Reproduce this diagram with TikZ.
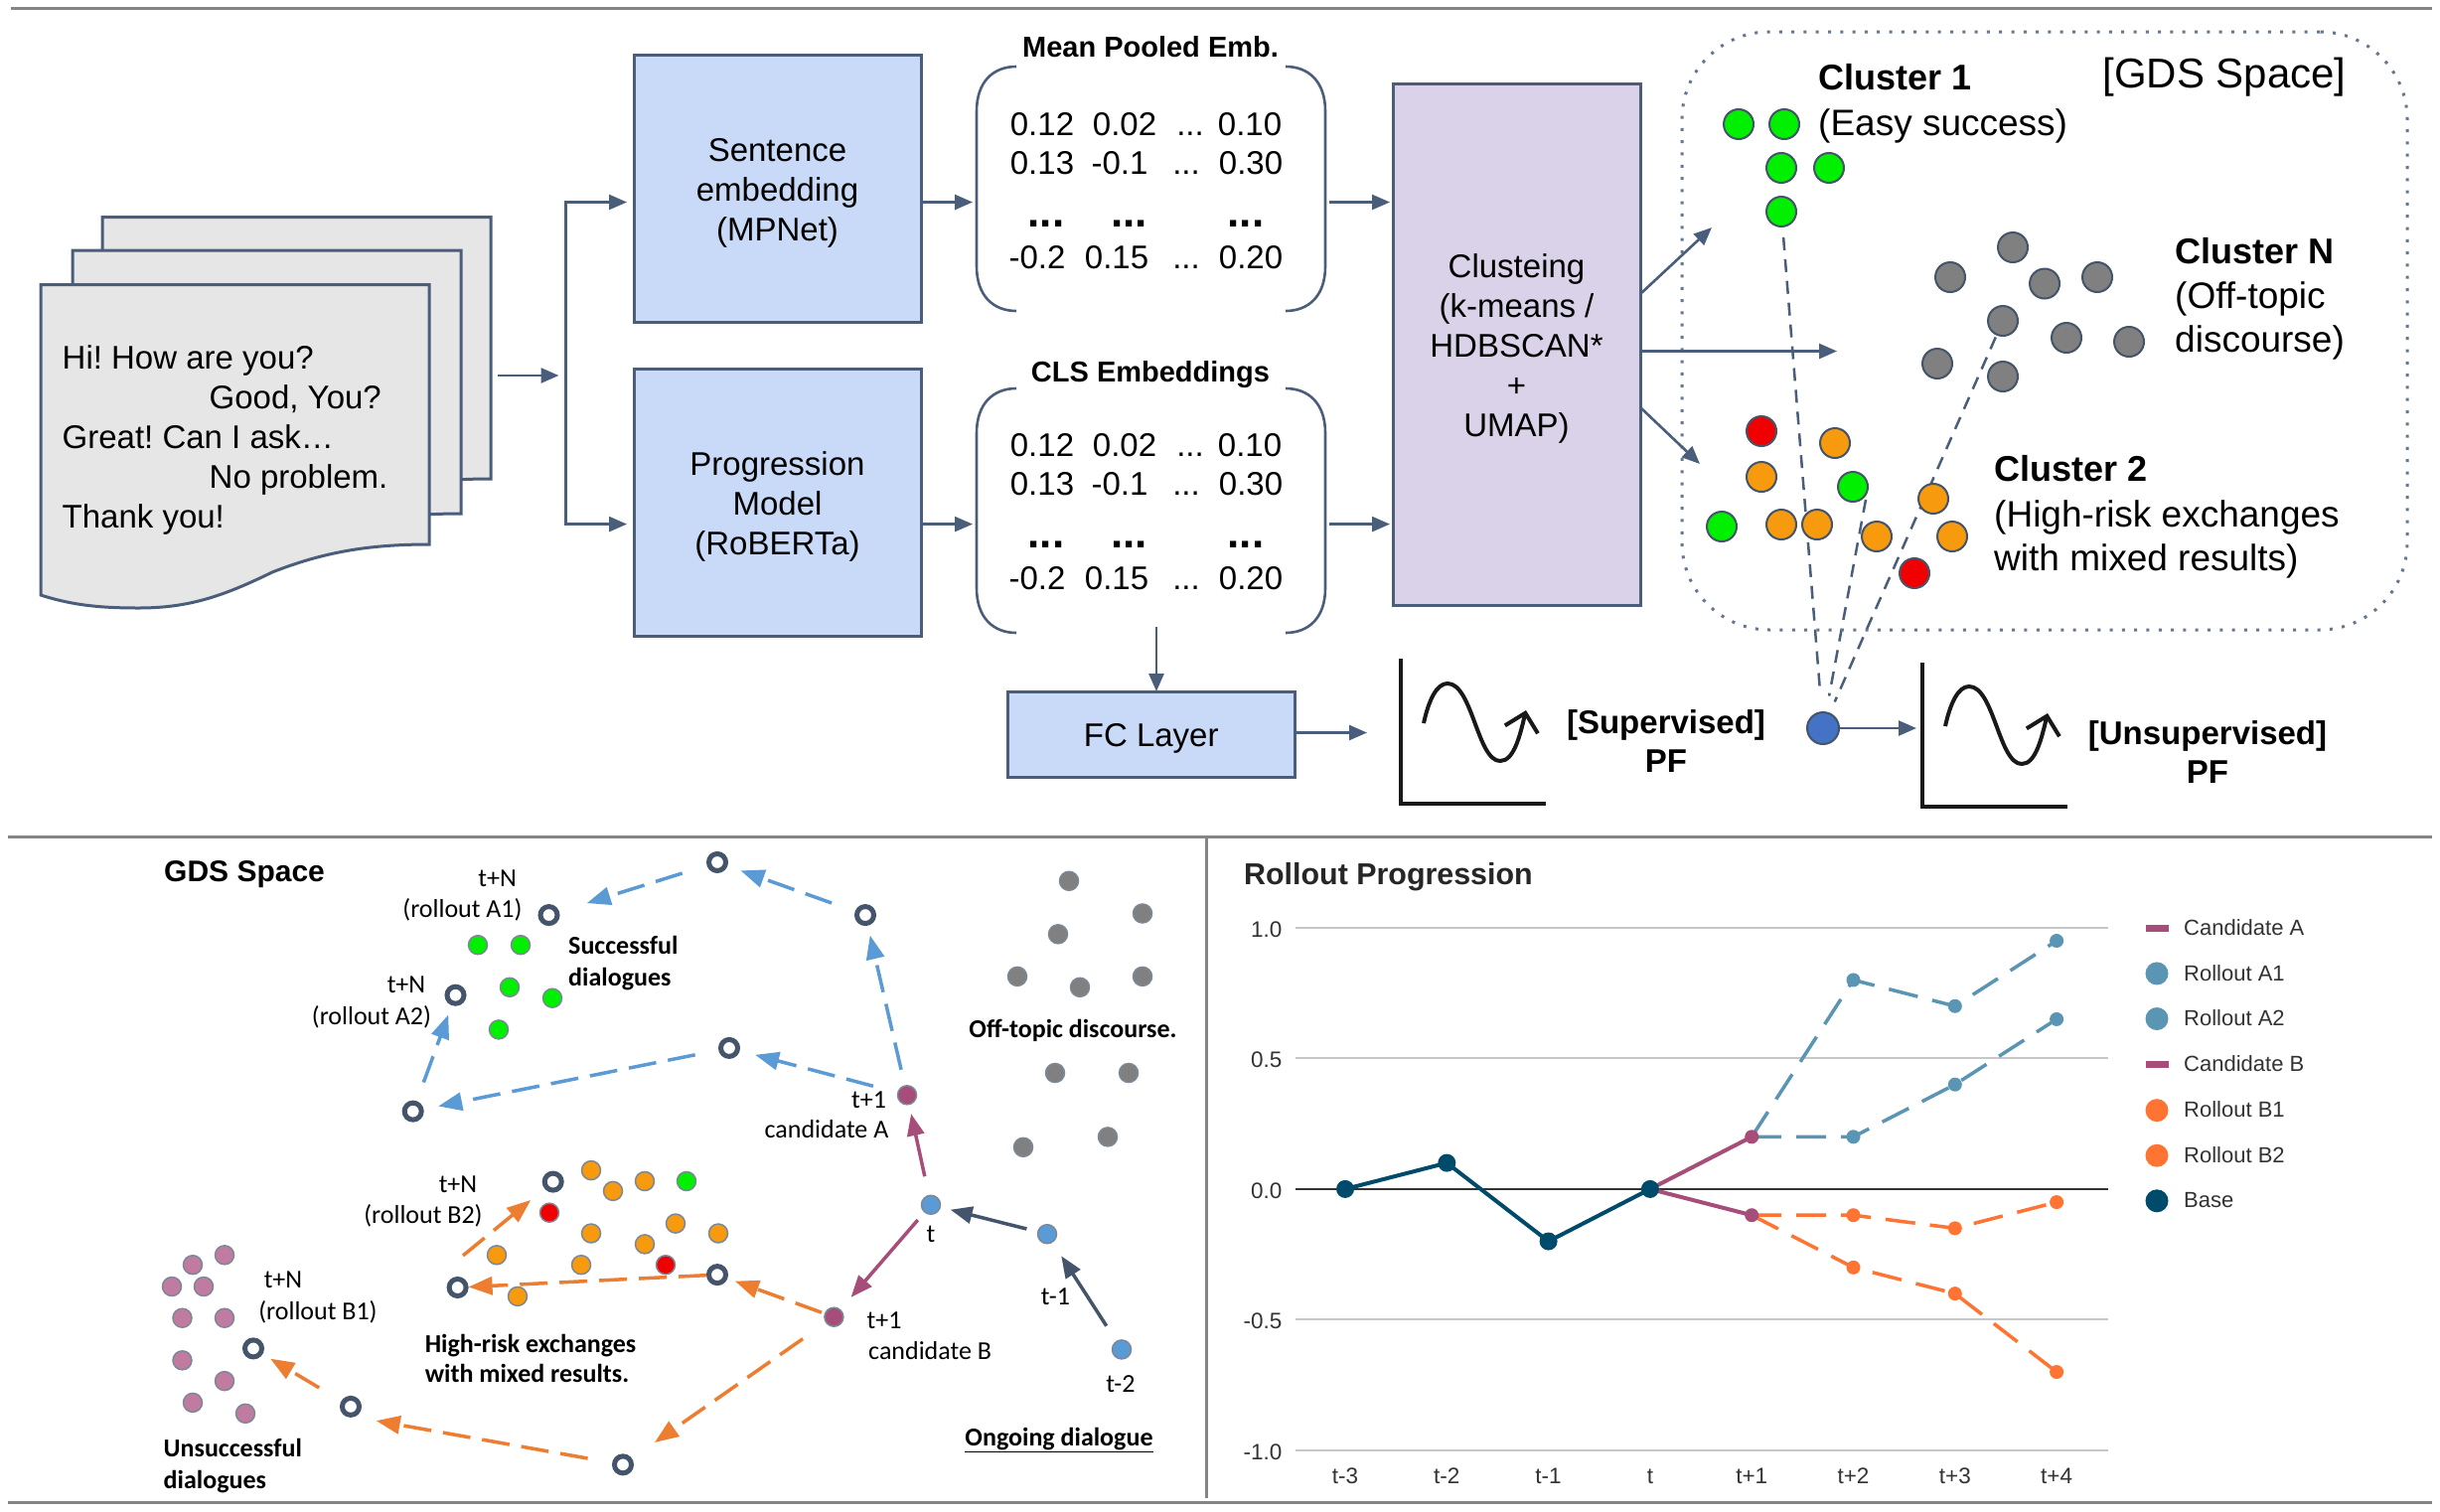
\documentclass[tikz,border=0pt]{standalone}
\usepackage{fontspec}
\usetikzlibrary{arrows.meta,calc}
\setmainfont{Liberation Sans}
\newfontfamily\carl{Carlito}
\newcommand{\fz}[1]{\fontsize{#1}{#1}\selectfont}
\newcommand{\fzl}[2]{\fontsize{#2}{#1}\selectfont}
\newcommand{\ddd}{{.}{.}{.}}
\definecolor{edge}{HTML}{4A5E7C}
\definecolor{slatec}{HTML}{44546A}
\definecolor{boxblue}{HTML}{C9DAF8}
\definecolor{boxpur}{HTML}{D9D2E9}
\definecolor{pagec}{HTML}{E6E6E6}
\definecolor{rulec}{HTML}{858585}
\definecolor{gD}{HTML}{00F000}
\definecolor{oD}{HTML}{F79A0E}
\definecolor{rD}{HTML}{F00000}
\definecolor{grD}{HTML}{808080}
\definecolor{pinkD}{HTML}{C27BA0}
\definecolor{blD}{HTML}{5B9BD5}
\definecolor{candc}{HTML}{A64D79}
\definecolor{oAr}{HTML}{ED7D31}
\definecolor{baseC}{HTML}{004A6B}
\definecolor{roA}{HTML}{5B95B4}
\definecolor{roB}{HTML}{FF7433}
\definecolor{candL}{HTML}{A64D79}
\definecolor{pfblue}{HTML}{4472C4}
\pgfdeclarelayer{bg}
\pgfsetlayers{bg,main}
\tikzset{
  arr/.style={draw=edge,line width=2.6pt,-{Triangle[length=18pt,width=15pt]}},
  pbox/.style={draw=edge,line width=3pt,inner sep=0pt,outer sep=0pt},
  ptxt/.style={align=center,inner sep=0pt,font=\fzl{40}{33}},
  txt/.style={inner sep=0pt,anchor=mid},
  ltx/.style={inner sep=0pt,anchor=mid west},
  s29/.style={yshift=-8pt},
  s33/.style={yshift=-9.5pt},
  s37/.style={yshift=-10pt},
  bigdot/.style={circle,draw=slatec,line width=2pt,minimum size=30pt,inner sep=0pt},
  smdot/.style={circle,draw=slatec!70,line width=1.5pt,minimum size=19pt,inner sep=0pt},
  ring/.style={circle,draw=slatec,fill=white,line width=5pt,minimum size=17pt,inner sep=0pt},
  cal/.style={inner sep=0pt,anchor=mid,font=\carl\fz{26},yshift=-5pt},
  calb/.style={inner sep=0pt,anchor=mid west,font=\carl\bfseries\fz{26},yshift=-5pt},
  dashb/.style={draw=blD,line width=3.5pt,dash pattern=on 28pt off 12pt,-{Triangle[length=24pt,width=18pt]}},
  dasho/.style={draw=oAr,line width=3.5pt,dash pattern=on 28pt off 12pt,-{Triangle[length=24pt,width=18pt]}},
  solp/.style={draw=candc,line width=3.5pt,-{Triangle[length=22pt,width=17pt]}},
  soln/.style={draw=slatec,line width=3.5pt,-{Triangle[length=22pt,width=17pt]}},
  gdash/.style={draw=edge,line width=2.5pt,dash pattern=on 13pt off 9pt},
  axisk/.style={draw=black!90,line width=4pt},
  sinek/.style={draw=black!90,line width=4pt,-{Straight Barb[length=17pt,width=34pt]}},
  mk/.style={circle,inner sep=0pt,minimum size=#1},
  ct/.style={inner sep=0pt,anchor=mid,font=\fz{22.5},text=black!80,yshift=-6pt},
  lg/.style={inner sep=0pt,anchor=mid west,font=\fz{22},text=black!80,yshift=-4.5pt},
  dr/.style={line width=3.5pt,dash pattern=on 30pt off 15pt}
}
\newcommand{\mybrace}[2]{%
  \draw[edge,line width=2.6pt] (1023,#1) .. controls (1000,#1) and (983,#1+15) .. (983,#1+45) -- (983,#2-45) .. controls (983,#2-15) and (1000,#2) .. (1023,#2);
  \draw[edge,line width=2.6pt] (1294,#1) .. controls (1317,#1) and (1334,#1+15) .. (1334,#1+45) -- (1334,#2-45) .. controls (1334,#2-15) and (1317,#2) .. (1294,#2);
}
\frenchspacing
\begin{document}
\begin{tikzpicture}[x=1pt,y=-1pt]
\useasboundingbox (0,0) rectangle (2456,1521);
\begin{pgfonlayer}{bg}
\fill[white] (0,0) rectangle (2456,1521);
\end{pgfonlayer}
% top rule
\draw[rulec,line width=3pt] (11,8.6) -- (2448,8.6);
% document pages
\foreach \dx/\dt/\db in {62/-68/-66,32/-34.5/-31,0/0/0}{
  \draw[edge,fill=pagec,line width=3pt,line join=miter]
    ({41+\dx},{286.5+\dt}) -- ({432+\dx},{286.5+\dt}) -- ({432+\dx},{548+\db})
    .. controls ({370+\dx},{548+\db}) and ({325+\dx},{556+\db}) .. ({274+\dx},{576+\db})
    .. controls ({225+\dx},{600+\db}) and ({190+\dx},{612+\db}) .. ({140+\dx},{612+\db})
    .. controls ({105+\dx},{612+\db}) and ({75+\dx},{610+\db}) .. ({41+\dx},{599+\db}) -- cycle;
}
\node[inner sep=0pt,anchor=west,align=left,font=\fzl{40}{33}] (doctext) at (62.5,443) {Hi! How are you?\\\hspace*{148pt}Good, You?\\Great! Can I ask\ldots\\\hspace*{148pt}No problem.\\Thank you!};
% boxes
\node[pbox,fill=boxblue,minimum width=289pt,minimum height=269pt,anchor=north west] (sent) at (638,55.7) {};
\node[ptxt] (sentT) at ($(sent.center)+(0,4.5)$) {Sentence\\embedding\\(MPNet)};
\node[pbox,fill=boxblue,minimum width=289pt,minimum height=269pt,anchor=north west] (prog) at (638,371) {};
\node[ptxt] (progT) at ($(prog.center)+(0,4.5)$) {Progression\\Model\\(RoBERTa)};
\node[pbox,fill=boxpur,minimum width=249pt,minimum height=525pt,anchor=north west] (clus) at (1402,84) {};
\node[ptxt] (clusT) at ($(clus.center)+(0,4.5)$) {Clusteing\\(k-means /\\HDBSCAN*\\+\\UMAP)};
\node[pbox,fill=boxblue,minimum width=289.5pt,minimum height=86pt,anchor=north west] (fc) at (1014,696) {};
\node[ptxt] (fcT) at ($(fc.center)+(0,4)$) {FC Layer};
\coordinate (ry1) at (0,203.5);
\coordinate (ry2) at (0,527.6);
\coordinate (split) at (569.5,378);
\coordinate (docout) at (501,378);
\coordinate (brm1) at (1334,203.5);
\coordinate (brm2) at (1334,527.6);
\coordinate (brl1) at (983,203.5);
\coordinate (brl2) at (983,527.6);
% left flow
\draw[arr] (docout) -- ($(split)+(-7,0)$);
\draw[arr,shorten >=7pt] (split) |- (sent.west |- ry1);
\draw[arr,shorten >=7pt] (split) |- (prog.west |- ry2);
\draw[arr,shorten >=4pt] (sent.east |- ry1) -- (brl1);
\draw[arr,shorten >=4pt] (prog.east |- ry2) -- (brl2);
\draw[arr,shorten <=4pt,shorten >=3pt] (brm1) -- (clus.west |- ry1);
\draw[arr,shorten <=4pt,shorten >=3pt] (brm2) -- (clus.west |- ry2);
% braces + numbers
\mybrace{67}{313}
\mybrace{391}{637}
\node[txt,s29,font=\bfseries\fz{29}] (titleA) at (1158,47) {Mean Pooled Emb.};
\node[txt,s29,font=\bfseries\fz{29}] (titleB) at (1158,374) {CLS Embeddings};
\foreach \k/\o in {a/0,b/323}{
  \foreach \n/\x/\y/\t in {r1/1049/124/0.12,r2/1132/124/0.02,r3/1198/124/\ddd,r4/1258/124/0.10,
    s1/1049/163/0.13,s2/1127/163/-0.1,s3/1194/163/\ddd,s4/1259/163/0.30,
    u1/1044/258/-0.2,u2/1124/258/0.15,u3/1194/258/\ddd,u4/1259/258/0.20}{
    \node[txt,s33,font=\fz{33}] (\k\n) at (\x,{\y+\o}) {\t};
  }
  \foreach \n/\x in {d1/1053,d2/1136.5,d3/1254}{
    \node[inner sep=0pt,anchor=base,font=\bfseries\fz{44}] (\k\n) at (\x,{228+\o}) {\ddd};
  }
}
% cluster region
\node[draw=edge!85,line width=3pt,dash pattern=on 3pt off 9.3pt,rounded corners=88pt,minimum width=730pt,minimum height=602pt,anchor=north west,inner sep=0pt,outer sep=0pt] (gds) at (1693,32) {};
\node[txt,s37,font=\fz{42}] (gdsl) at (2239,76) {[GDS Space]};
\coordinate (oa) at (1723,229);
\coordinate (ob) at (1849,353.5);
\coordinate (oc) at (1711,467);
\draw[arr] (clus.east |- 0,296) -- (oa);
\draw[arr] (clus.east |- 0,353.5) -- (ob);
\draw[arr] (clus.east |- 0,410) -- (oc);
\foreach \n/\x/\y in {ga/1750/125,gb/1796/125,gc/1793/169,gd/1841/169,ge/1793/213,gf/1865/490,gg/1733/530}
  \node[bigdot,fill=gD] (\n) at (\x,\y) {};
\foreach \n/\x/\y in {ya/2026/249,yb/1963/279,yc/2058/285.5,yd/2111/279,ye/2016/323,yf/2080/340,yg/2143/344,yh/1950/366,yi/2016/379}
  \node[bigdot,fill=grD] (\n) at (\x,\y) {};
\foreach \n/\x/\y in {oa1/1847/446,ob1/1773/480,oc1/1946/502,od1/1793/528,oe1/1829/528,of1/1889/540,og1/1965/540}
  \node[bigdot,fill=oD] (\n) at (\x,\y) {};
\foreach \n/\x/\y in {ra/1773/434,rb/1927/577}
  \node[bigdot,fill=rD] (\n) at (\x,\y) {};
\node[bigdot,fill=pfblue,minimum size=32pt] (pfdot) at (1835,733) {};
\coordinate (fr) at (1878,503);
\begin{pgfonlayer}{bg}
\draw[gdash,shorten <=10pt,shorten >=20pt] (ge) -- (pfdot);
\draw[gdash,shorten >=16pt] (fr) -- (pfdot);
\draw[gdash,shorten <=2pt,shorten >=12pt] (ye) -- (pfdot);
\end{pgfonlayer}
\node[ltx,s37,font=\bfseries\fz{36}] (c1) at (1830,78) {Cluster 1};
\node[ltx,s37,font=\fz{37}] (c1b) at (1830,124) {(Easy success)};
\node[ltx,s37,font=\bfseries\fz{36}] (cn) at (2189,253) {Cluster N};
\node[ltx,s37,font=\fz{37}] (cnb) at (2189,298) {(Off-topic};
\node[ltx,s37,font=\fz{37}] (cnc) at (2189,342) {discourse)};
\node[ltx,s37,font=\bfseries\fz{36}] (c2) at (2007,472) {Cluster 2};
\node[ltx,s37,font=\fz{37}] (c2b) at (2007,518) {(High-risk exchanges};
\node[ltx,s37,font=\fz{37}] (c2c) at (2007,562) {with mixed results)};
% FC + PF
\coordinate (fcin) at (1164,631);
\draw[arr] (fcin) -- (fc.north -| fcin);
\coordinate (pf1in) at (1376,737.5);
\draw[arr] (fc.east |- pf1in) -- (pf1in);
\coordinate (pf2in) at (1929,733);
\draw[arr] (pfdot) -- (pf2in);
\coordinate (p1t) at (1410,663); \coordinate (p1o) at (1410,808.5); \coordinate (p1r) at (1556,808.5);
\draw[axisk] (p1t) -- (p1o) -- (p1r);
\draw[sinek] (1433,728) .. controls (1438,705) and (1446,688) .. (1457,688) .. controls (1482,688) and (1487,766) .. (1510,766) .. controls (1524,766) and (1530,740) .. (1536,715);
\coordinate (p2t) at (1935,667); \coordinate (p2o) at (1935,812); \coordinate (p2r) at (2081,812);
\draw[axisk] (p2t) -- (p2o) -- (p2r);
\draw[sinek] (1958,731) .. controls (1963,708) and (1971,691) .. (1982,691) .. controls (2007,691) and (2012,769) .. (2035,769) .. controls (2049,769) and (2055,743) .. (2061,718);
\node[inner sep=0pt,align=center,font=\bfseries\fzl{39}{33}] (pfa) at (1677,746.5) {[Supervised]\\PF};
\node[inner sep=0pt,align=center,font=\bfseries\fzl{39}{33}] (pfb) at (2222,757.5) {[Unsupervised]\\PF};
% ===== lower half
\begin{scope}[y=-0.9908pt,yshift=-7.95pt]
\draw[rulec,line width=3pt] (8,842.5) -- (2448,842.5);
\draw[rulec,line width=3pt] (8,1518) -- (2448,1518);
\draw[rulec,line width=3pt] (1214,843) -- (1214,1514);
\node[ltx,font=\bfseries\fz{30},yshift=-6.5pt] (gdsB) at (165,878) {GDS Space};
\foreach \n/\x/\y in {r1/552.5/921.6,r2/722/868,r3/871/921.6,r4/458.5/1003,r5/415.7/1121,r6/734/1056.7,r7/556.7/1192.6,r8/460.6/1300,r9/722/1287,r10/255/1362,r11/353/1421,r12/627/1480}
  \node[ring] (\n) at (\x,\y) {};
\node[smdot,fill=candc] (cA) at (913,1104.5) {};
\node[smdot,fill=candc] (cB) at (839.4,1330) {};
\node[smdot,fill=blD] (tt) at (937,1216) {};
\node[smdot,fill=blD] (tm) at (1054,1245.7) {};
\node[smdot,fill=blD] (tmm) at (1129,1363) {};
\foreach \n/\x/\y in {lga/481/952,lgb/524/952,lgc/513/995,lgd/556/1006,lge/502/1038,lgf/691/1192}
  \node[smdot,fill=gD] (\n) at (\x,\y) {};
\foreach \n/\x/\y in {lya/1076/887,lyb/1150/920,lyc/1065/941,lyd/1024/984,lye/1087/995,lyf/1150/984,lyg/1062/1082,lyh/1136/1082,lyi/1030/1157.5,lyj/1115/1147}
  \node[smdot,fill=grD] (\n) at (\x,\y) {};
\foreach \n/\x/\y in {loa/595/1181,lob/617/1202,loc/649/1192,lod/595/1245,loe/649/1256,lof/680/1235,log/723/1245,loh/500/1267,loi/585/1277,loj/521/1309}
  \node[smdot,fill=oD] (\n) at (\x,\y) {};
\node[smdot,fill=rD] (lra) at (553,1224) {};
\node[smdot,fill=rD] (lrb) at (670,1277) {};
\foreach \n/\x/\y in {lpa/226/1267,lpb/194/1277,lpc/173/1299,lpd/205/1299,lpe/183.5/1331,lpf/226/1331,lpg/183.5/1374,lph/226/1395,lpi/194/1417,lpj/247/1428}
  \node[smdot,fill=pinkD] (\n) at (\x,\y) {};
% lower-left arrows
\draw[dashb,shorten <=16pt,shorten >=10pt] (cA) -- (r3);
\draw[dashb,shorten <=25pt,shorten >=14pt] (r3) -- (r2);
\draw[dashb,shorten <=26pt,shorten >=29pt] (r2) -- (r1);
\draw[dashb,shorten <=25pt,shorten >=16pt] (cA) -- (r6);
\draw[dashb,shorten <=24pt,shorten >=15pt] (r6) -- (r5);
\draw[dashb,shorten <=20pt,shorten >=10pt] (r5) -- (r4);
\draw[solp,shorten <=19pt,shorten >=9pt] (tt) -- (cA);
\draw[solp,shorten <=10pt,shorten >=16pt] (tt) -- (cB);
\draw[soln,shorten <=11pt,shorten >=10pt] (tm) -- (tt);
\draw[soln,shorten <=18pt,shorten >=16pt] (tmm) -- (tm);
\draw[dasho,shorten <=3pt,shorten >=8pt] (cB) -- (r9);
\draw[dasho] (r9) -- (r8);
\coordinate (b2s) at (466,1267.6);
\draw[dasho,shorten >=18pt] (b2s) -- (r7);
\draw[dasho,shorten <=28pt,shorten >=28pt] (cB) -- (r12);
\coordinate (r11t) at (360,1432);
\draw[dasho,shorten <=25pt,shorten >=19pt] (r12) -- (r11t);
\draw[dasho,shorten <=26pt,shorten >=9pt] (r11) -- (r10);
% lower-left labels
\node[cal] (la1) at (500.6,885) {t+N};
\node[cal] (la2) at (465.5,916) {(rollout A1)};
\node[cal] (la3) at (409,993) {t+N};
\node[cal] (la4) at (374,1025) {(rollout A2)};
\node[cal] (la5) at (461,1196) {t+N};
\node[cal] (la6) at (426,1227) {(rollout B2)};
\node[cal] (la7) at (285,1293) {t+N};
\node[cal] (la8) at (320,1325) {(rollout B1)};
\node[cal] (la9) at (874.5,1110) {t+1};
\node[cal] (la10) at (832,1140) {candidate A};
\node[cal] (la11) at (890,1334) {t+1};
\node[cal,anchor=mid west] (la12) at (874,1365) {candidate B};
\node[cal] (la13) at (937,1246) {t};
\node[cal] (la14) at (1062.5,1310) {t-1};
\node[cal] (la15) at (1128,1399) {t-2};
\node[calb] (lb1) at (572,953.6) {Successful};
\node[calb] (lb2) at (572,985.6) {dialogues};
\node[calb,anchor=mid] (lb3) at (1080,1038) {Off-topic discourse.};
\node[calb] (lb4) at (427.6,1358) {High-risk exchanges};
\node[calb] (lb5) at (427.6,1389) {with mixed results.};
\node[calb] (lb6) at (164.5,1464.6) {Unsuccessful};
\node[calb] (lb7) at (164.5,1496.6) {dialogues};
\node[calb,anchor=mid] (lb8) at (1066,1453) {\underline{Ongoing dialogue}};
% ===== chart
\node[ltx,font=\bfseries\fz{30.4},text=black!85,yshift=-6.5pt] (chT) at (1252,881) {Rollout Progression};
\begin{pgfonlayer}{bg}
\foreach \y in {934.5,1067,1332.5,1465.5} \draw[black!22,line width=2.2pt] (1304,\y) -- (2121.5,\y);
\draw[black!80,line width=2.2pt] (1304,1200) -- (2121.5,1200);
\end{pgfonlayer}
\foreach \n/\y/\t in {y1/934.5/1.0,y2/1067/0.5,y3/1200/0.0,y4/1332.5/-0.5,y5/1465.5/-1.0}
  \node[ct,anchor=mid east,yshift=-1pt] (\n) at (1290.5,\y) {\t};
\foreach \n/\i/\t in {x0/0/t-3,x1/1/t-2,x2/2/t-1,x3/3/t,x4/4/t+1,x5/5/t+2,x6/6/t+3,x7/7/t+4}
  \node[ct] (\n) at ({1354+102.3*\i},1491) {\t};
\foreach \n/\i/\v in {ba/0/0,bb/1/0.1,bc/2/-0.2,bd/3/0}
  \node[mk=18pt,fill=baseC] (\n) at ({1354+102.3*\i},{1200-265.5*\v}) {};
\foreach \n/\i/\v in {ca/4/0.2,cb/4/-0.1}
  \node[mk=14pt,fill=candL] (\n) at ({1354+102.3*\i},{1200-265.5*\v}) {};
\foreach \n/\i/\v in {a1/5/0.8,a2/6/0.7,a3/7/0.95,a4/5/0.2,a5/6/0.4,a6/7/0.65}
  \node[mk=14pt,fill=roA] (\n) at ({1354+102.3*\i},{1200-265.5*\v}) {};
\foreach \n/\i/\v in {e1/5/-0.1,e2/6/-0.15,e3/7/-0.05,e4/5/-0.3,e5/6/-0.4,e6/7/-0.7}
  \node[mk=14pt,fill=roB] (\n) at ({1354+102.3*\i},{1200-265.5*\v}) {};
\begin{pgfonlayer}{bg}
\draw[baseC,line width=4pt] (ba.center) -- (bb.center) -- (bc.center) -- (bd.center);
\draw[candL,line width=4pt] (bd.center) -- (ca.center);
\draw[candL,line width=4pt] (bd.center) -- (cb.center);
\draw[roA,dr] (ca.center) -- (a1.center) -- (a2.center) -- (a3.center);
\draw[roA,dr] (ca.center) -- (a4.center) -- (a5.center) -- (a6.center);
\draw[roB,dr] (cb.center) -- (e1.center) -- (e2.center) -- (e3.center);
\draw[roB,dr] (cb.center) -- (e4.center) -- (e5.center) -- (e6.center);
\end{pgfonlayer}
% legend
\node[fill=candL,minimum width=23pt,minimum height=7.5pt,inner sep=0pt] (lk1) at (2171,935) {};
\node[mk=23pt,fill=roA] (lk2) at (2171,981) {};
\node[mk=23pt,fill=roA] (lk3) at (2171,1027) {};
\node[fill=candL,minimum width=23pt,minimum height=7.5pt,inner sep=0pt] (lk4) at (2171,1073.5) {};
\node[mk=23pt,fill=roB] (lk5) at (2171,1120) {};
\node[mk=23pt,fill=roB] (lk6) at (2171,1166) {};
\node[mk=23pt,fill=baseC] (lk7) at (2171,1212) {};
\node[lg] (lt1) at (2198,935) {Candidate A};
\node[lg] (lt2) at (2198,981) {Rollout A1};
\node[lg] (lt3) at (2198,1027) {Rollout A2};
\node[lg] (lt4) at (2198,1073.5) {Candidate B};
\node[lg] (lt5) at (2198,1120) {Rollout B1};
\node[lg] (lt6) at (2198,1166) {Rollout B2};
\node[lg] (lt7) at (2198,1212) {Base};
\end{scope}
\end{tikzpicture}
\end{document}
